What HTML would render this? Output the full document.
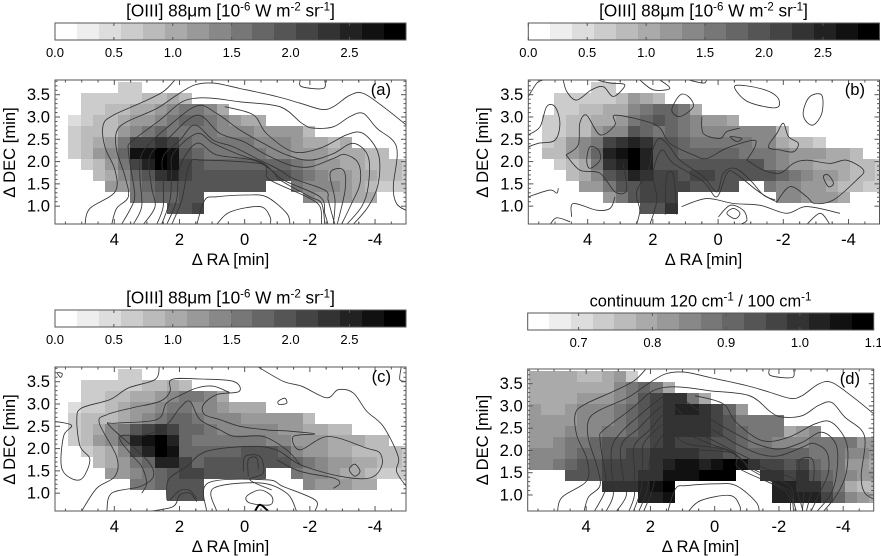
<!DOCTYPE html>
<html>
<head>
<meta charset="utf-8">
<title>[OIII] 88 micron maps</title>
<style>
html,body{margin:0;padding:0;background:#fff;}
svg{display:block;}
text{font-family:"Liberation Sans",sans-serif;fill:#000;}
</style>
</head>
<body>
<svg id="figure" xmlns="http://www.w3.org/2000/svg" width="881" height="556" viewBox="0 0 881 556">
<rect width="881" height="556" fill="#fff"/>
<defs>
<clipPath id="clip-a"><rect x="55" y="80" width="351" height="144"/></clipPath>
<clipPath id="clip-b"><rect x="528.3" y="80" width="351.2" height="144"/></clipPath>
<clipPath id="clip-c"><rect x="55" y="367" width="351" height="144"/></clipPath>
<clipPath id="clip-d"><rect x="527.7" y="369" width="346" height="142"/></clipPath>
</defs>
<g id="layer-marks"></g>
<g font-size="16.6">
<text x="230.5" y="16.5" font-size="17.2" text-anchor="middle">[OIII] 88μm [10<tspan dy="-6" font-size="11.5">-6</tspan><tspan dy="6"> W m</tspan><tspan dy="-6" font-size="11.5">-2</tspan><tspan dy="6"> sr</tspan><tspan dy="-6" font-size="11.5">-1</tspan><tspan dy="6">]</tspan></text>
<text x="230.5" y="265" text-anchor="middle">Δ RA [min]</text>
<text transform="translate(15,152.5) rotate(-90)" text-anchor="middle">Δ DEC [min]</text>
<text x="391" y="95" text-anchor="end">(a)</text>
</g>
<g font-size="16.6">
<text x="703.5" y="16.5" font-size="17.2" text-anchor="middle">[OIII] 88μm [10<tspan dy="-6" font-size="11.5">-6</tspan><tspan dy="6"> W m</tspan><tspan dy="-6" font-size="11.5">-2</tspan><tspan dy="6"> sr</tspan><tspan dy="-6" font-size="11.5">-1</tspan><tspan dy="6">]</tspan></text>
<text x="703.5" y="265" text-anchor="middle">Δ RA [min]</text>
<text transform="translate(488,152.5) rotate(-90)" text-anchor="middle">Δ DEC [min]</text>
<text x="865" y="95" text-anchor="end">(b)</text>
</g>
<g font-size="16.6">
<text x="230.5" y="303.5" font-size="17.2" text-anchor="middle">[OIII] 88μm [10<tspan dy="-6" font-size="11.5">-6</tspan><tspan dy="6"> W m</tspan><tspan dy="-6" font-size="11.5">-2</tspan><tspan dy="6"> sr</tspan><tspan dy="-6" font-size="11.5">-1</tspan><tspan dy="6">]</tspan></text>
<text x="230.5" y="552" text-anchor="middle">Δ RA [min]</text>
<text transform="translate(15,439.5) rotate(-90)" text-anchor="middle">Δ DEC [min]</text>
<text x="391" y="382" text-anchor="end">(c)</text>
</g>
<g font-size="16.6">
<text x="700.5" y="306.5" text-anchor="middle" font-size="16.4">continuum 120 cm<tspan dy="-6" font-size="11.5">-1</tspan><tspan dy="6"> / 100 cm</tspan><tspan dy="-6" font-size="11.5">-1</tspan></text>
<text x="700.5" y="552" text-anchor="middle">Δ RA [min]</text>
<text transform="translate(488,440) rotate(-90)" text-anchor="middle">Δ DEC [min]</text>
<text x="860" y="384" text-anchor="end">(d)</text>
</g>
</svg>
<script>
// ---- axis tick data ----
const raTicks = ["4","2","0","-2","-4"];
const decTicks = ["1.0","1.5","2.0","2.5","3.0","3.5"];
const oiiiTicks = ["0.0","0.5","1.0","1.5","2.0","2.5"];
const ratioTicks = ["0.7","0.8","0.9","1.0","1.1"];

// ---- [OIII] maps: per-row first column and intensity values (0 = no data) ----
const oiiiRowStarts = [4,1,1,0,0,0,0,1,2,3,5,8];
const gridA = [
 [.7,.7],
 [.7,.7,.7,.7,.7,.8,.8,1,.8],
 [.7,.7,.8,.8,1,1,1.2,1.4,1.6,1.6,1.4,1],
 [.5,.7,.8,.8,1,1.2,1.2,1.4,1.6,1.8,1.8,1.6,1.4,1.2,1,1],
 [.7,.8,.8,.8,1.2,1.4,1.6,1.8,1.6,1.6,1.6,1.6,1.4,1.4,1.4,1.2,1.2,1.2,1.2,.8],
 [.7,.8,1,1.2,1.6,2.1,2.1,2.3,2.1,1.8,1.6,1.6,1.6,1.6,1.6,1.4,1.4,1.4,1.2,1,1,.8,1],
 [.7,.8,1.2,1.4,1.8,2.7,2.7,2.9,2.7,2,1.8,1.6,1.6,1.6,1.6,1.6,1.4,1.4,1.2,1.2,1.2,1,1,1,.8,.8],
 [.7,.8,1.2,1.6,2.1,2.5,2.9,2.7,2.1,2,1.8,1.8,1.8,1.8,1.8,1.8,1.8,1.6,1.4,1.2,1.2,1,1,.8,.8,.8,.7],
 [.8,1,1.4,1.8,2,2.3,2.5,2.1,2,2,2,2,2,2,2,2,1.8,1.6,1.4,1.2,1.2,1,1,.8,.8,.7],
 [1.2,1.2,1.6,1.8,2,2,2,2,2,2,2,2,2,0,0,1.6,1.4,1.4,1.4,1.2,1,.8,.7,.7,.7],
 [1.6,1.6,1.8,1.8,2,2,0,0,0,0,0,0,0,0,1.4,1.2,1.2,1.2,1,1],
 [2,2,2.1]
];
const gridB = [
 [.7,.7],
 [.7,.7,.7,.7,.7,.8,1.2,1,.8],
 [.7,.7,.8,.8,1,1,1.4,1.6,1.8,1.8,1.6,1],
 [.7,.7,.8,.8,1,1,1.2,1.6,1.8,2,1.8,1.6,1.4,1.2,1.2,1],
 [.7,.7,.8,.8,1.2,1.4,1.4,2,1.8,1.6,1.8,1.6,1.4,1.4,1.4,1.4,1.4,1.4,1.4,.8],
 [.7,.8,1.2,1.4,1.6,2.1,2.3,2.5,2.3,2,2,1.8,1.6,1.6,1.6,1.6,1.6,1.4,1.4,1,.8,.8,.7],
 [.8,.8,1.2,1.4,1.8,2.5,2.7,2.9,2.5,2,2,1.8,1.8,1.8,1.8,1.8,1.6,1.6,1.6,1.4,1.2,1.2,1.2,1,1,.8],
 [.7,.8,1,1.6,2.3,2.5,2.9,2.5,2,2,2,2,2,2,2,2,2,1.6,1.4,1.2,1.2,1,1,1,.8,.8,.7],
 [.8,1,1.4,2,2.1,2.5,2.3,2.1,2.1,2,2.1,2.1,2,2,2,2,2,1.8,1.6,1.4,1.2,1.2,1,.8,.8,.7],
 [1.2,1.2,1.6,2,2,2.1,2.1,2.1,2.1,2,2,2,2,0,0,1.6,1.4,1.4,1.2,1.2,1,.8,.8,.7,.7],
 [1.2,1.6,2,2.1,2.1,2.1,0,0,0,0,0,0,0,0,1.4,1.4,1.2,1.2,1.2,1],
 [2,2,2.3]
];
const gridC = [
 [.7,.7],
 [.7,.7,.7,.7,.7,.8,.8,1,.8],
 [.7,.7,.8,.8,1,1,1.2,1.4,1.6,1.6,1.4,1],
 [.5,.7,.7,.8,1,1.2,1.2,1.4,1.6,1.6,1.4,1.4,1.2,1,1,1],
 [.7,.8,.8,.8,1,1.2,1.4,1.6,1.8,1.8,1.6,1.4,1.4,1.4,1.2,1.2,1.2,1.2,1.2,.8],
 [.7,.8,1,1.4,1.6,2,2.1,2.3,2.1,1.8,1.8,1.6,1.4,1.4,1.4,1.4,1.4,1.2,1.2,1,1,.8,.8],
 [.7,.8,1.2,1.4,1.8,2.5,2.7,2.9,2.5,1.8,1.6,1.6,1.6,1.6,1.6,1.6,1.4,1.4,1.2,1.2,1.2,1,1,1,.8,.8],
 [.7,.8,1,1.4,2.1,2.5,2.9,2.7,1.8,1.8,1.8,1.8,1.8,2,2,2,1.8,1.4,1.2,1.2,1,1,.8,.8,.8,.8,.7],
 [.8,1,1.2,1.6,1.8,2.5,2.5,2.1,1.8,2,2,2,2,2,2,2,1.8,1.6,1.4,1.2,1.2,1,1,.8,.8,.7],
 [1.2,1.2,1.4,1.6,1.8,2,2.1,2.1,2,2,2,2,2,0,0,1.6,1.4,1.4,1.2,1,1,.8,.7,.7,.7],
 [1.6,1.6,1.8,2,2,2,0,0,0,0,0,0,0,0,1.4,1.2,1.2,1.2,1,1],
 [2,2,2]
];

// ---- continuum ratio map ----
const ratioRowStarts = [-1,-1,-1,-1,-1,-1,-1,-1,-1,2,5,8];
const gridD = [
 [.79,.79,.79,.79,.76,.76,.79,.82,.73],
 [.79,.79,.79,.79,.79,.79,.79,.85,.88,.91,.88,.79],
 [.79,.79,.79,.79,.82,.82,.82,.85,.88,.94,.97,1,1,.88,.79],
 [.82,.79,.79,.82,.85,.85,.85,.88,.91,.94,.97,1,1.03,1.03,1,.97,.91,.82],
 [.82,.82,.82,.82,.85,.85,.85,.88,.91,.94,.97,1,1,1,1,.97,.94,.88,.88,.88,.88],
 [.82,.82,.82,.85,.85,.85,.88,.88,.91,.94,.97,1,1,1,1,.97,.94,.91,.88,.88,.88,.79,.82,.85],
 [.82,.82,.85,.88,.88,.91,.94,.94,.94,.94,.97,1,.97,.97,.97,.94,.94,.91,.88,.88,.85,.85,.85,.88,.88,.88,.88,.82,.82],
 [.85,.85,.85,.88,.91,.91,.94,.94,.97,.97,1,1,1,1,.97,.97,.94,.91,.91,.91,.91,.91,.91,.88,.88,.88,.85,.85,.82],
 [.85,.85,.88,.91,.94,.94,.97,.97,.97,.97,1,1.03,1.06,1.06,1.03,1.06,1.09,1.06,1,.97,.97,.94,.97,.91,.88,.88,.82,.82,.79],
 [.94,.94,.94,.97,.97,.97,1,1,1.06,1.06,1.06,1.09,1.09,1.09,0,0,1,1,.97,1,.94,.91,.88,.85,.82,.82],
 [1,1,1,1.03,1.06,1.09,0,0,0,0,0,0,0,0,1.03,1.03,1,1,.94,.88,.79,.76,.76],
 [1.03,1.03,1.06,0,0,0,0,0,0,0,0,1.03,1.03,1.03,1.03,.97,.91,.85,.82,.79]
];

// ---- contours as [RA, DEC] vertices, in minutes ----
const contoursAD = [
 [[4.90,.59],[4.75,.95],[3.98,1.32],[3.98,1.81],[4.29,2.33],[4.34,2.82],[4.03,3.04],[3.11,3.34],[2.50,3.57],[2.14,3.83]],
 [[4.08,.59],[3.93,.95],[3.57,1.21],[3.67,1.66],[3.93,2.26],[3.93,2.67],[3.62,2.89],[2.70,3.19],[2.09,3.49],[1.53,3.72],[.96,3.76],[.15,3.64],[-.98,3.46],[-1.70,3.31],[-2.36,3.17],[-2.72,3.23],[-3.23,3.49],[-3.64,3.53],[-4.25,3.23],[-4.96,2.82]],
 [[3.78,.59],[3.47,.99],[3.37,1.25],[3.47,1.74],[3.57,2.26],[3.47,2.45],[2.60,2.93],[1.99,3.31],[1.53,3.42],[.96,3.42],[.15,3.34],[-1.08,3.23],[-1.75,2.86],[-2.10,2.75],[-2.72,2.78],[-3.23,3.01],[-3.64,3.08],[-4.05,2.75],[-4.66,2.33],[-4.56,1.44],[-4.66,1.06],[-4.96,.90]],
 [[.61,3.23],[-.26,3.05],[-.67,2.63],[-1.49,2.22],[-2.31,2.30],[-3.13,2.60],[-3.64,2.63],[-4.10,2.18],[-4.10,1.51],[-3.79,.99],[-3.33,.59]],
 [[3.42,.59],[3.16,.99],[3.21,1.59],[3.21,2.03],[3.01,2.33],[2.40,2.75],[1.47,3.25],[.86,3.08],[.15,2.71],[-.57,2.41],[-1.29,2.15],[-2.00,2.03],[-2.72,2.18],[-3.33,2.41],[-3.79,2.11],[-3.79,1.44],[-3.59,.99],[-3.13,.59]],
 [[3.11,.59],[2.75,.99],[2.86,1.44],[2.91,2.11],[2.40,2.48],[1.47,3.04],[.76,2.63],[.04,2.45],[-.67,2.15],[-1.39,1.92],[-2.00,1.88],[-2.72,2.07],[-3.08,2.16],[-3.49,1.96],[-3.54,1.51],[-3.28,1.06],[-2.97,.59]],
 [[2.70,.59],[2.50,.99],[2.50,1.59],[2.50,2.11],[1.99,2.48],[1.53,2.82],[.96,2.48],[.35,2.33],[-.47,2.03],[-1.08,1.81],[-1.49,1.62],[-2.46,1.36],[-2.56,1.14],[-2.67,.84],[-2.77,.59]],
 [[2.55,.59],[2.29,1.14],[2.24,1.74],[2.19,2.18],[1.47,2.63],[.96,2.41],[.15,2.15],[-.57,1.96],[-1.18,1.59],[-2.31,1.21],[-2.46,.84],[-2.56,.59]],
 [[2.39,.59],[2.09,1.14],[1.99,1.88],[1.47,2.41],[.86,2.15],[-.27,2.03],[-.88,1.77],[-1.08,1.59],[-2.00,1.21],[-2.36,1.06],[-2.46,.59]],
 [[2.24,.59],[1.93,1.14],[1.68,1.96],[1.27,2.03],[-.47,1.96],[-.67,1.81],[-.77,1.59],[-1.90,1.21],[-2.31,.99],[-2.36,.59]],
 [[-2.72,.59],[-2.77,1.14],[-2.62,1.74],[-3.03,1.81],[-3.08,1.36],[-2.84,.59]],
 [[1.47,.59],[1.22,1.14],[.86,1.21],[-.06,1.25],[-.67,1.21],[-1.29,.84],[-1.39,.59]],
 [[.86,.59],[.45,.87],[-.47,.99],[-.78,.76],[-.78,.59]],
 [[-1.70,3.83],[-1.75,3.68],[-2.41,3.64],[-2.46,3.83]]
];
const contoursB = [
 [[5.82,3.46],[5.56,3.76],[5.36,3.83]],
 [[4.75,3.83],[4.64,3.57],[4.34,3.38],[3.88,3.61],[3.52,3.68],[3.21,3.46],[2.86,3.72],[3.31,3.76],[3.72,3.83]],
 [[1.42,3.16],[1.17,3.01],[.76,3.23],[.91,3.46],[1.17,3.49],[1.42,3.16]],
 [[-.52,3.70],[-.83,3.38],[-1.44,3.23],[-1.85,3.23],[-1.80,3.46],[-1.29,3.64],[-.52,3.70]],
 [[-2.62,3.16],[-2.82,3.46],[-3.18,3.49],[-3.18,3.08],[-2.92,2.82],[-2.67,2.93],[-2.62,3.16]],
 [[5.82,2.6],[5.46,2.78],[5.26,3.23],[5.0,3.23],[4.85,2.86],[5.0,2.48],[5.51,2.41],[5.82,2.33]],
 [[4.66,2.15],[4.29,2.37],[4.24,2.86],[4.03,3.04],[3.62,2.6],[3.16,2.82],[3.16,3.04],[2.19,2.9],[1.78,2.75],[1.48,2.41],[.76,2.15],[.35,2.07],[-.26,2.3],[-1.08,2.48],[-1.13,2.33],[-.88,2.03]],
 [[4.66,2.15],[4.24,1.81],[3.62,1.74],[3.16,1.32],[2.81,1.36],[2.91,1.96]],
 [[5.82,1.21],[5.16,1.36],[4.95,1.29],[4.9,1.4]],
 [[5.15,.59],[4.95,.74],[4.54,.65]],
 [[4.49,.76],[4.44,1.06],[3.72,.91],[3.31,.95],[3.16,1.21]],
 [[2.5,.59],[2.4,.91],[2.5,1.32],[2.14,1.81],[1.99,2.3],[1.78,2.52],[1.48,2.33],[1.17,2.03],[.45,1.66],[.04,1.32],[-.16,1.74],[-.52,1.85],[-.98,1.59],[-1.39,1.25],[-1.75,1.14]],
 [[2.09,.59],[1.88,1.14],[1.99,1.74],[1.73,2.26],[1.37,1.96],[.45,1.55],[.04,1.21],[-.27,1.74],[-.52,1.74],[-1.18,1.36],[-1.59,1.17],[-1.8,1.1]],
 [[1.62,.81],[1.58,1.66],[1.37,1.69],[1.27,.81]],
 [[4.03,2.03],[3.93,2.33],[3.67,2.26],[3.62,2.03],[3.93,1.85],[4.03,2.03]],
 [[-1.8,1.1],[-2.21,1.44],[-2.72,1.21],[-2.97,1.06],[-3.54,1.14],[-4.25,1.59],[-4.46,1.81],[-3.94,2.03],[-3.43,1.96],[-2.72,2.03],[-2.31,1.96],[-1.9,1.74],[-1.39,1.81],[-.88,2.03]],
 [[-1.54,2.33],[-1.8,2.63],[-2.0,2.86],[-2.16,2.56],[-2.46,2.41],[-2.31,2.22],[-1.9,2.26],[-1.54,2.33]],
 [[-3.23,1.66],[-3.38,1.7],[-3.54,1.51],[-3.38,1.44],[-3.23,1.66]],
 [[.5,3.01],[.45,2.63],[-.06,2.52],[-.26,2.67],[-.67,2.75]],
 [[-.37,2.56],[-.72,2.52],[-.57,2.45],[-.37,2.56]],
 [[1.12,.99],[.35,1.17],[-.47,1.06],[-1.29,1.02],[-2.1,.84],[-2.72,.99],[-3.74,.84]],
 [[-.01,.76],[-.37,1.02],[-.77,.91],[-.88,.68],[-.67,.59]],
 [[-.27,.84],[-.47,.95],[-.67,.84],[-.52,.72],[-.27,.84]],
 [[-2.72,.59],[-3.13,.84],[-3.43,.59]],
 [[2.4,3.83],[1.99,3.61],[1.48,3.64],[1.78,3.83]],
 [[.91,3.83],[.45,3.76],[.35,3.83]]
];
const contoursC = [
 [[5.82,2.61],[5.31,2.52],[5.56,2.27],[5.6,1.53],[5.05,1.3],[4.75,1.75],[5.05,2.05],[5.15,2.65],[5.0,2.91],[4.13,3.1],[3.57,3.36],[2.75,3.55],[2.62,3.85]],
 [[-.37,3.85],[-1.18,3.51],[-1.75,3.4],[-2.51,3.14],[-2.87,3.32],[-3.33,3.25],[-3.74,2.84],[-4.25,2.5],[-4.71,1.82],[-4.66,1.49],[-4.96,1.15]],
 [[5.0,.6],[4.54,1.11],[3.98,1.38],[3.93,1.82],[4.46,2.57],[4.23,2.76],[3.47,2.91],[2.6,3.06],[2.29,3.28],[2.24,3.55],[1.37,3.56],[.35,3.51],[.17,3.28],[.86,3.21],[1.27,2.98],[1.22,2.76],[.76,2.65],[.15,2.5],[-.67,2.42],[-1.39,2.39],[-2.15,2.33],[-1.49,2.27],[-1.7,1.97],[-2.56,2.27],[-3.74,2.01],[-4.15,1.9],[-4.2,1.6],[-3.84,1.34],[-2.92,1.38],[-1.7,1.64],[-.98,1.97],[-.16,2.05],[1.17,1.94],[1.78,1.6],[2.34,1.3],[2.39,.85]],
 [[4.23,.6],[4.08,1],[3.21,1.15],[2.8,1.38],[3.01,1.75],[4.13,2.5],[3.98,2.57],[2.7,2.65],[2.4,3.02],[1.93,3.21],[1.47,3.36],[.96,3.4],[.45,3.25]],
 [[-.98,1.75],[-1.7,1.49],[-2.72,1.34],[-2.92,1.22],[-2.72,1.11]],
 [[3.16,1],[3.01,1.22],[3.16,1.6],[3.52,1.9],[3.82,2.27],[3.01,2.31],[2.39,2.54],[1.99,2.91],[1.68,3.06],[1.37,2.65],[.76,2.42],[.3,2.27],[-.57,2.27],[-1.29,1.97],[-1.7,1.64]],
 [[.04,1.49],[-.01,1.82],[-.47,1.82],[-.57,1.45],[-.16,1.3],[-.83,1.07]],
 [[-.11,1.38],[-.11,1.75],[-.37,1.79],[-.42,1.53]],
 [[1.17,.6],[1.12,1.23],[-.67,1.3],[-1.18,1.15],[-2.16,.85],[-2.16,.6]],
 [[.86,.6],[.96,1.11],[-.47,1.23],[-1.29,1.0],[-1.59,.6]],
 [[-.06,.93],[-.47,1.07],[-.83,.93],[-.78,.74],[-.16,.78],[-.06,.93]],
 [[2.85,.6],[2.19,.7],[1.99,.96],[1.68,1],[1.47,.81]],
 [[2.29,.85],[1.99,1.06],[1.68,1.06],[1.47,.87]],
 [[-3.21,1.53],[-3.38,1.65],[-3.54,1.49],[-3.38,1.38],[-3.21,1.53]],
 [[-1.03,3.06],[-1.23,3.13],[-1.29,3.02],[-1.06,2.99],[-1.03,3.06]],
 [[5.75,3.7],[5.6,3.68],[5.65,3.6],[5.75,3.7]],
 [[-4.81,3.85],[-4.76,3.55],[-4.96,3.51]]
];
const contoursCBold = [
 [[-.32,.6],[-.47,.74],[-.72,.6]]
];

// ---- layout (not data) ----
const SVGNS = "http://www.w3.org/2000/svg";
const COL_RA0 = 5.41, COL_DRA = 0.3788, ROW_DEC0 = 3.79, ROW_DDEC = 0.248;
const panels = [
 {id:"a", x0:55, x1:406, y0:80, y1:224, cy0:23, cy1:40, decMin:.6, grid:gridA, starts:oiiiRowStarts, contours:contoursAD, bold:[], vmin:0, vmax:2.98, ticks:oiiiTicks},
 {id:"b", x0:528.3, x1:879.5, y0:80, y1:224, cy0:23, cy1:40, decMin:.6, grid:gridB, starts:oiiiRowStarts, contours:contoursB, bold:[], vmin:0, vmax:2.98, ticks:oiiiTicks},
 {id:"c", x0:55, x1:406, y0:367, y1:511, cy0:310, cy1:327, decMin:.6, grid:gridC, starts:oiiiRowStarts, contours:contoursC, bold:contoursCBold, vmin:0, vmax:2.98, ticks:oiiiTicks},
 {id:"d", x0:527.7, x1:873.7, y0:369, y1:511, cy0:313, cy1:330, decMin:.64, grid:gridD, starts:ratioRowStarts, contours:contoursAD, bold:[], vmin:.631, vmax:1.1, ticks:ratioTicks}
];
const RA_LEFT = 5.82, RA_RIGHT = -4.95, DEC_TOP = 3.83, LEVELS = 16;
const FRAME = "#555";
const layer = document.getElementById("layer-marks");

function grayFor(level){
  const g = 255 - 17*level;
  return "rgb("+g+","+g+","+g+")";
}
function addLine(parent,x1,y1,x2,y2,name){
  const el = document.createElementNS(SVGNS,"line");
  
  
  el.setAttribute("x1",x1); el.setAttribute("y1",y1);
  el.setAttribute("x2",x2); el.setAttribute("y2",y2);
  el.setAttribute("stroke",FRAME);
  el.setAttribute("stroke-width","1");
  parent.appendChild(el);
}
function addLabel(parent,x,y,str,size,anchor,name){
  const el = document.createElementNS(SVGNS,"text");
  
  
  el.setAttribute("x",x); el.setAttribute("y",y);
  el.setAttribute("font-size",size);
  el.setAttribute("text-anchor",anchor);
  el.textContent = str;
  parent.appendChild(el);
}
function addRect(parent,x,y,w,h,fill,name){
  const el = document.createElementNS(SVGNS,"rect");
  
  
  el.setAttribute("x",x); el.setAttribute("y",y);
  el.setAttribute("width",w); el.setAttribute("height",h);
  el.setAttribute("fill",fill);
  el.setAttribute("shape-rendering","crispEdges");
  parent.appendChild(el);
}
// Catmull-Rom spline through projected contour vertices
function splinePath(pts){
  let d = "M"+pts[0][0].toFixed(1)+" "+pts[0][1].toFixed(1);
  const closed = pts.length>3 && pts[0][0]===pts[pts.length-1][0] && pts[0][1]===pts[pts.length-1][1];
  const n = pts.length;
  const at = function(i){
    if(closed){ return pts[((i%(n-1))+(n-1))%(n-1)]; }
    return pts[Math.max(0,Math.min(n-1,i))];
  };
  for(let i=0;i<n-1;i++){
    const p0=at(i-1), p1=at(i), p2=at(i+1), p3=at(i+2);
    const c1x=p1[0]+(p2[0]-p0[0])/6, c1y=p1[1]+(p2[1]-p0[1])/6;
    const c2x=p2[0]-(p3[0]-p1[0])/6, c2y=p2[1]-(p3[1]-p1[1])/6;
    d += "C"+c1x.toFixed(1)+" "+c1y.toFixed(1)+" "+c2x.toFixed(1)+" "+c2y.toFixed(1)+" "+p2[0].toFixed(1)+" "+p2[1].toFixed(1);
  }
  return d;
}

panels.forEach(function(p){
  const xOf = function(ra){ return p.x0 + (RA_LEFT-ra)/(RA_LEFT-RA_RIGHT)*(p.x1-p.x0); };
  const yOf = function(dec){ return p.y0 + (DEC_TOP-dec)/(DEC_TOP-p.decMin)*(p.y1-p.y0); };
  const cbX = function(v){ return p.x0 + (v-p.vmin)/(p.vmax-p.vmin)*(p.x1-p.x0); };
  const levelOf = function(v){
    return Math.max(0,Math.min(LEVELS-1,Math.floor((v-p.vmin)/(p.vmax-p.vmin)*LEVELS)));
  };

  const g = document.createElementNS(SVGNS,"g");
  
  
  layer.appendChild(g);

  // colorbar
  const stepV = (p.vmax-p.vmin)/LEVELS;
  for(let i=0;i<LEVELS;i++){
    const a = Math.round(cbX(p.vmin+i*stepV)), b = Math.round(cbX(p.vmin+(i+1)*stepV));
    addRect(g,a,p.cy0,b-a,p.cy1-p.cy0,grayFor(i),'colorbar-swatch-'+p.id);
  }
  const cbFrame = document.createElementNS(SVGNS,"rect");
  
  
  cbFrame.setAttribute("x",p.x0); cbFrame.setAttribute("y",p.cy0);
  cbFrame.setAttribute("width",p.x1-p.x0); cbFrame.setAttribute("height",p.cy1-p.cy0);
  cbFrame.setAttribute("fill","none"); cbFrame.setAttribute("stroke",FRAME);
  g.appendChild(cbFrame);
  p.ticks.forEach(function(t){
    const v = parseFloat(t), x = cbX(v);
    addLine(g,x,p.cy0,x,p.cy0+3,'colorbar-tick-'+p.id);
    addLine(g,x,p.cy1,x,p.cy1-3,'colorbar-tick-'+p.id);
    addLabel(g,x,p.cy0+34,t,13,"middle",'colorbar-tick-label-'+p.id);
  });

  // map cells
  const cells = document.createElementNS(SVGNS,"g");
  
  
  cells.setAttribute("clip-path","url(#clip-"+p.id+")");
  g.appendChild(cells);
  p.grid.forEach(function(row,j){
    row.forEach(function(v,i){
      if(!v) return;
      const k = p.starts[j]+i;
      const xa = Math.round(xOf(COL_RA0-k*COL_DRA)), xb = Math.round(xOf(COL_RA0-(k+1)*COL_DRA));
      const ya = Math.round(yOf(ROW_DEC0-j*ROW_DDEC)), yb = Math.round(yOf(ROW_DEC0-(j+1)*ROW_DDEC));
      addRect(cells,xa,ya,xb-xa,yb-ya,grayFor(levelOf(v)),'map-cell-'+p.id);
    });
  });

  // contours
  const lines = document.createElementNS(SVGNS,"g");
  
  
  lines.setAttribute("clip-path","url(#clip-"+p.id+")");
  g.appendChild(lines);
  const drawContour = function(c,width,color){
    const el = document.createElementNS(SVGNS,"path");
    
    
    el.setAttribute("d",splinePath(c.map(function(q){return [xOf(q[0]),yOf(q[1])];})));
    el.setAttribute("fill","none");
    el.setAttribute("stroke",color);
    el.setAttribute("stroke-width",width);
    el.setAttribute("stroke-linejoin","round");
    lines.appendChild(el);
  };
  p.contours.forEach(function(c){ drawContour(c,.85,"#333"); });
  p.bold.forEach(function(c){ drawContour(c,2,"#000"); });

  // frame
  const frame = document.createElementNS(SVGNS,"rect");
  
  
  frame.setAttribute("x",p.x0); frame.setAttribute("y",p.y0);
  frame.setAttribute("width",p.x1-p.x0); frame.setAttribute("height",p.y1-p.y0);
  frame.setAttribute("fill","none"); frame.setAttribute("stroke",FRAME);
  g.appendChild(frame);

  // x ticks
  raTicks.forEach(function(t){
    const ra = parseFloat(t), x = xOf(ra);
    addLine(g,x,p.y1,x,p.y1-5,'x-tick-'+p.id);
    addLine(g,x,p.y0,x,p.y0+5,'x-tick-'+p.id);
    addLabel(g,x,p.y1+21,t,16.6,"middle",'x-tick-label-'+p.id);
    [0.5,1,1.5,-0.5,-1,-1.5].forEach(function(d){
      const m = xOf(ra+d);
      if(m>p.x0 && m<p.x1){
        addLine(g,m,p.y1,m,p.y1-2.5,'x-minor-tick-'+p.id);
        addLine(g,m,p.y0,m,p.y0+2.5,'x-minor-tick-'+p.id);
      }
    });
  });
  // y ticks
  decTicks.forEach(function(t){
    const dec = parseFloat(t), y = yOf(dec);
    addLine(g,p.x0,y,p.x0+5,y,'y-tick-'+p.id);
    addLine(g,p.x1,y,p.x1-5,y,'y-tick-'+p.id);
    addLabel(g,p.x0-5,y+5.5,t,16.6,"end",'y-tick-label-'+p.id);
    [0.1,0.2,0.3,0.4].forEach(function(d){
      const m = yOf(dec+d);
      if(m>p.y0 && m<p.y1){
        addLine(g,p.x0,m,p.x0+2.5,m,'y-minor-tick-'+p.id);
        addLine(g,p.x1,m,p.x1-2.5,m,'y-minor-tick-'+p.id);
      }
    });
  });
});
</script>
</body>
</html>
